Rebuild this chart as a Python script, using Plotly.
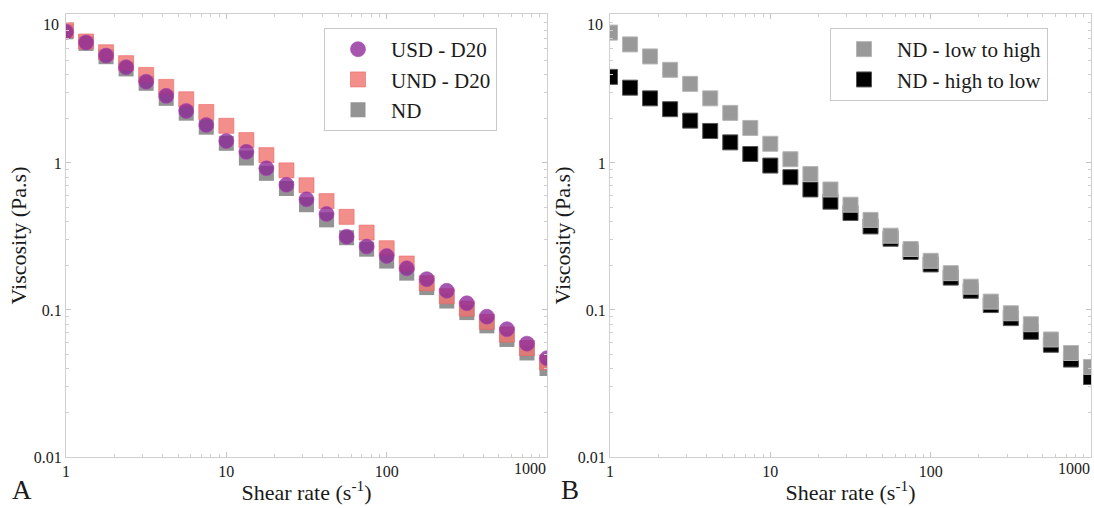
import plotly.graph_objects as go

# ---------------- data ----------------
shear_rate = [1.0, 1.334, 1.778, 2.371, 3.162, 4.217, 5.623, 7.499, 10.0, 13.34, 17.78,
              23.71, 31.62, 42.17, 56.23, 74.99, 100.0, 133.4, 177.8, 237.1, 316.2,
              421.7, 562.3, 749.9, 1000.0]

usd_d20 = [7.8, 6.6, 5.37, 4.48, 3.57, 2.86, 2.26, 1.81, 1.41, 1.19, 0.92, 0.71, 0.566,
           0.45, 0.315, 0.27, 0.233, 0.192, 0.162, 0.135, 0.111, 0.090, 0.074, 0.059, 0.047]
und_d20 = [8.0, 6.7, 5.66, 4.77, 3.97, 3.29, 2.71, 2.22, 1.79, 1.43, 1.13, 0.89, 0.705,
           0.55, 0.43, 0.336, 0.263, 0.207, 0.152, 0.124, 0.102, 0.083, 0.068, 0.055, 0.044]
nd_left = [7.8, 6.5, 5.28, 4.36, 3.48, 2.75, 2.18, 1.75, 1.36, 1.08, 0.85, 0.67, 0.52,
           0.41, 0.31, 0.259, 0.215, 0.178, 0.142, 0.115, 0.096, 0.078, 0.063, 0.051, 0.040]

nd_low_to_high = [7.7, 6.4, 5.3, 4.3, 3.45, 2.75, 2.19, 1.73, 1.35, 1.06, 0.84, 0.66, 0.52,
                  0.41, 0.32, 0.26, 0.216, 0.178, 0.144, 0.114, 0.095, 0.080, 0.063, 0.051, 0.041]
nd_high_to_low = [3.85, 3.25, 2.75, 2.32, 1.94, 1.65, 1.38, 1.15, 0.96, 0.80, 0.66, 0.545,
                  0.457, 0.37, 0.305, 0.248, 0.204, 0.166, 0.135, 0.108, 0.088, 0.071, 0.058,
                  0.046, 0.035]

x_tick_vals = [1, 10, 100, 1000]
x_tick_text = ["1", "10", "100", "1000"]
y_tick_vals = [0.01, 0.1, 1, 10]
y_tick_text = ["0.01", "0.1", "1", "10"]

# ---------------- figure ----------------
W, H = 1094, 508
FONT = "Liberation Serif, Times New Roman, Times, serif"
TXT = "#1a1a1a"
fig = go.Figure()

# left panel (draw order: ND, UND, USD ; legend order: USD, UND, ND)
fig.add_trace(go.Scatter(x=shear_rate, y=nd_left, mode="markers", name="ND",
                         marker=dict(symbol="square", size=15, color="rgba(128,128,128,0.85)",
                                     line=dict(width=0)),
                         xaxis="x", yaxis="y", legend="legend", legendrank=3))
fig.add_trace(go.Scatter(x=shear_rate, y=und_d20, mode="markers", name="UND - D20",
                         marker=dict(symbol="square", size=15, color="rgba(240,118,112,0.82)",
                                     line=dict(width=1, color="rgba(235,100,100,0.6)")),
                         xaxis="x", yaxis="y", legend="legend", legendrank=2))
fig.add_trace(go.Scatter(x=shear_rate, y=usd_d20, mode="markers", name="USD - D20",
                         marker=dict(symbol="circle", size=15, color="rgba(140,40,150,0.78)",
                                     line=dict(width=1, color="rgba(170,70,180,0.6)")),
                         xaxis="x", yaxis="y", legend="legend", legendrank=1))

# right panel (black drawn first, gray on top)
fig.add_trace(go.Scatter(x=shear_rate, y=nd_high_to_low, mode="markers", name="ND - high to low",
                         marker=dict(symbol="square", size=15, color="#000000",
                                     line=dict(width=1, color="#555555")),
                         xaxis="x2", yaxis="y2", legend="legend2", legendrank=2))
fig.add_trace(go.Scatter(x=shear_rate, y=nd_low_to_high, mode="markers", name="ND - low to high",
                         marker=dict(symbol="square", size=15, color="#999999",
                                     line=dict(width=1, color="#b5b5b5")),
                         xaxis="x2", yaxis="y2", legend="legend2", legendrank=1))

# minor log ticks (2..9 within each decade)
x_minor = [m * 10 ** e for e in range(0, 3) for m in range(2, 10)]
y_minor = [m * 10.0 ** e for e in range(-2, 1) for m in range(2, 10)]

ydom = [1 - 457 / H, 1 - 14 / H]
axis_common = dict(
    type="log", automargin=False, showgrid=False, zeroline=False, showline=True,
    linecolor="#cfcfcf", linewidth=1, mirror="allticks", ticks="inside", ticklen=5,
    tickcolor="#c4c4c4", tickfont=dict(family=FONT, size=16, color=TXT),
)
# the end labels ("1000" and "10") are drawn as annotations, aligned inside the frame
xcommon = dict(axis_common, range=[0, 3], tickvals=x_tick_vals[:-1], ticktext=x_tick_text[:-1],
               minor=dict(tickmode="array", tickvals=x_minor, ticks="inside", ticklen=3,
                          tickcolor="#d0d0d0", showgrid=False),
               title=dict(text="Shear rate (s<sup>-1</sup>)", font=dict(family=FONT, size=22, color=TXT),
                          standoff=5))
ycommon = dict(axis_common, range=[-2, 1.013], tickvals=y_tick_vals[:-1], ticktext=y_tick_text[:-1],
               minor=dict(tickmode="array", tickvals=y_minor, ticks="inside", ticklen=3,
                          tickcolor="#d0d0d0", showgrid=False),
               title=dict(text="Viscosity (Pa.s)", font=dict(family=FONT, size=22, color=TXT),
                          standoff=1))

legend_common = dict(bgcolor="rgba(255,255,255,0)", bordercolor="#c8c8c8", borderwidth=1,
                     font=dict(family=FONT, size=21, color=TXT),
                     xanchor="left", yanchor="top", itemsizing="trace", itemwidth=56,
                     tracegroupgap=0)

annotations = []
for xr, yr, xpix in (("x", "y", 61), ("x2", "y2", 605)):
    annotations.append(dict(text=x_tick_text[-1], x=3, xref=xr, y=1 - 468 / H, yref="paper",
                            showarrow=False, xanchor="right", yanchor="middle", xshift=1,
                            font=dict(family=FONT, size=16, color=TXT)))
    annotations.append(dict(text=y_tick_text[-1], x=xpix / W, xref="paper", y=1, yref=yr,
                            showarrow=False, xanchor="right", yanchor="top", yshift=2,
                            font=dict(family=FONT, size=16, color=TXT)))
annotations += [
    dict(text="A", x=22 / W, y=1 - 490 / H, xref="paper", yref="paper", showarrow=False,
         font=dict(family=FONT, size=27, color=TXT), xanchor="center", yanchor="middle"),
    dict(text="B", x=570 / W, y=1 - 490 / H, xref="paper", yref="paper", showarrow=False,
         font=dict(family=FONT, size=27, color=TXT), xanchor="center", yanchor="middle"),
]

fig.update_layout(
    width=W, height=H,
    paper_bgcolor="white", plot_bgcolor="white",
    margin=dict(l=0, r=0, t=0, b=0, autoexpand=False),
    showlegend=True,
    xaxis=dict(xcommon, domain=[66 / W, 547 / W], anchor="y"),
    yaxis=dict(ycommon, domain=ydom, anchor="x"),
    xaxis2=dict(xcommon, domain=[610 / W, 1091 / W], anchor="y2"),
    yaxis2=dict(ycommon, domain=ydom, anchor="x2"),
    legend=dict(legend_common, x=324 / W, y=1 - 28 / H),
    legend2=dict(legend_common, x=830 / W, y=1 - 28 / H),
    annotations=annotations,
)

fig.write_html("out.html", config={"displayModeBar": False},
               post_script="document.body.style.margin='0px';")
